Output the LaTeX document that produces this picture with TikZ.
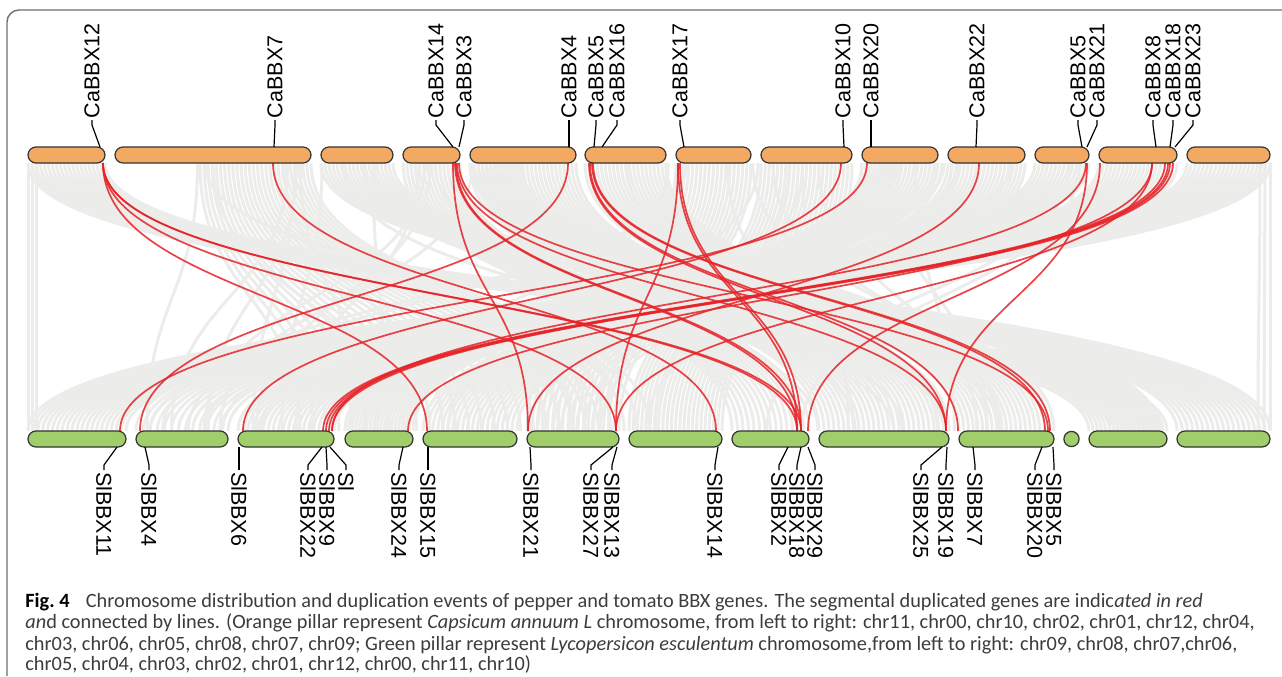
\documentclass[tikz,border=0pt]{standalone}
\usepackage{fontspec}
\setmainfont{Liberation Sans}
\newfontfamily\capfont{Carlito}
\usetikzlibrary{calc}

\definecolor{capsorange}{RGB}{244,169,98}
\definecolor{lycogreen}{RGB}{160,206,106}
\definecolor{synteny}{RGB}{236,236,234}
\definecolor{duplink}{RGB}{230,35,40}
\definecolor{framegray}{RGB}{110,110,110}
\definecolor{captext}{RGB}{60,60,60}

\tikzset{
  chrom/.style={draw=black!80, line width=0.6pt, rounded corners=4pt,
    inner sep=0pt, minimum height=8pt},
  capchr/.style={chrom, fill=capsorange},
  lycchr/.style={chrom, fill=lycogreen},
  genelbl/.style={font=\fontsize{10.75}{12}\selectfont, inner xsep=0.8pt,
    inner ysep=0pt, anchor=west},
  toplbl/.style={genelbl, rotate=90},
  botlbl/.style={genelbl, rotate=-90},
  leader/.style={line width=0.6pt},
  duplink/.style={draw=duplink, line width=0.85pt, opacity=0.85},
  syn/.style={draw=synteny, line width=1.5pt},
  capline/.style={anchor=base west, inner sep=0pt, text=captext,
    font=\capfont\fontsize{10.15}{11}\selectfont}
}

\begin{document}
\begin{tikzpicture}[x=0.5pt, y=-0.5pt]
  \useasboundingbox (0,0) rectangle (1282,676);

  % frame
  \draw[framegray, line width=0.7pt, rounded corners=6pt]
    (7,676) -- (7,10) -- (1282,10);

  % synteny blocks (grey background)
  \foreach \ta/\tb/\ba/\bb in {28/105/1089/1167, 321/393/1177/1270,
      403/460/732/809, 470/576/819/949, 585/666/959/1054,
      676/751/527/619, 761/852/629/722, 862/938/345/413,
      948/1025/423/517, 1035/1089/136/228, 1099/1177/238/334,
      1187/1270/28/126, 28/36/28/36, 1260/1270/1258/1270,
      200/311/300/650, 470/520/1110/1160, 862/900/530/600} {
    \pgfmathtruncatemacro\nn{max(2,(\tb-\ta)/4)}
    \foreach \k in {0,...,\nn} {
      \pgfmathsetmacro\xa{\ta+(\tb-\ta)*\k/\nn}
      \pgfmathsetmacro\xb{\ba+(\bb-\ba)*\k/\nn}
      \draw[syn] (\xa,163) .. controls (\xa,297) and (\xb,297) .. (\xb,431);
    }
  }
  \pgfmathsetseed{17}
  \foreach \i in {1,...,45} {
    \pgfmathsetmacro\xa{190+rnd*900}
    \pgfmathsetmacro\xb{130+rnd*900}
    \draw[syn] (\xa,163) .. controls (\xa,297) and (\xb,297) .. (\xb,431);
  }

  % link end points
  \foreach \x in {103,273,453,455,456,457,459,568,589,590,592,593,678,680,
      841,867,979,1086,1087,1100,1152,1165,1168,1170,1173}
    \coordinate (T\x) at (\x,163);
  \foreach \x in {120,140,243,323,326,329,332,408,427,528,616,716,797,801,
      808,946,958,1045,1048,1050}
    \coordinate (B\x) at (\x,431);

  % segmental duplications
  \foreach \a/\b in {T103/B427, T103/B616, T103/B797, T103/B801,
      T273/B716, T453/B528, T455/B797, T456/B801, T457/B946, T459/B1048,
      T568/B140, T589/B946, T590/B958, T592/B1045, T593/B1050,
      T678/B616, T678/B797, T680/B801, T841/B243, T867/B120,
      T979/B528, T1087/B946, T1086/B332, T1100/B808, T1152/B408,
      T1152/B616, T1165/B323, T1168/B326, T1170/B329, T1173/B332}
    \draw[duplink] (\a) .. controls +(0,134) and +(0,-134) .. (\b);

  % pepper chromosomes
  \foreach \n/\a/\b in {1/28/105, 2/115/311, 3/321/393, 4/403/460,
      5/470/576, 6/585/666, 7/676/751, 8/761/852, 9/862/938,
      10/948/1025, 11/1035/1089, 12/1099/1177, 13/1187/1270} {
    \pgfmathsetmacro\w{(\b-\a)*0.5}
    \node[capchr, minimum width=\w pt] (ca\n) at ({(\a+\b)/2},155) {};
  }

  % tomato chromosomes
  \foreach \n/\a/\b in {1/28/126, 2/136/228, 3/238/334, 4/345/413,
      5/423/517, 6/527/619, 7/629/722, 8/732/809, 9/819/949,
      10/959/1054, 12/1089/1167, 13/1177/1270} {
    \pgfmathsetmacro\w{(\b-\a)*0.5}
    \node[lycchr, minimum width=\w pt] (sl\n) at ({(\a+\b)/2},439) {};
  }
  \node[lycchr, circle, minimum size=7.6pt] (sl11) at (1071.5,439) {};

  % pepper gene labels
  \foreach \g/\t/\gx/\lx in {12/12/100/92, 7/7/274/275, 14/14/453/436,
      3/3/459/464, 4/4/569/569, 5/5/594/596, 16/16/602/617, 17/17/684/680,
      10/10/844/843, 20/20/871/871, 22/22/976/977, 5b/5/1082/1078,
      21/21/1087/1097, 8/8/1156/1153, 18/18/1170/1173, 23/23/1175/1193} {
    \coordinate (cg\g) at (\gx,147);
    \node[toplbl] (cl\g) at (\lx,120) {CaBBX\t};
    \draw[leader] (cg\g) -- ($(cl\g.west)+(0,5)$) -- (cl\g.west);
  }

  % tomato gene labels
  \foreach \g/\gx/\lx in {11/117/104, 4/145/149, 6/239/239, 22/322/308,
      9/326/327, 24/403/399, 15/428/428, 21/530/531, 27/613/591,
      13/617/612, 14/718/715, 2/788/779, 18/801/797, 29/808/815,
      25/942/921, 19/947/946, 7/973/975, 20/1042/1035, 5/1053/1054} {
    \coordinate (sg\g) at (\gx,447);
    \node[botlbl] (sb\g) at (\lx,470) {SlBBX\g};
    \draw[leader] (sg\g) -- ($(sb\g.west)+(0,-5)$) -- (sb\g.west);
  }
  \coordinate (sgx) at (330,447);
  \node[botlbl] (sbx) at (346,470) {Sl};
  \draw[leader] (sgx) -- ($(sbx.west)+(0,-5)$) -- (sbx.west);

  % caption
  \node[capline] (cap1) at (25,607) {\textbf{\color{black}Fig.~4}\hspace{0.8em}Chromosome distribution and duplication events of pepper and tomato BBX genes. The segmental duplicated genes are indic\textit{ated in red}};
  \node[capline] (cap2) at (25,628) {\textit{an}d connected by lines. (Orange pillar represent \textit{Capsicum annuum L} chromosome, from left to right: chr11, chr00, chr10, chr02, chr01, chr12, chr04,};
  \node[capline] (cap3) at (25,650) {chr03, chr06, chr05, chr08, chr07, chr09; Green pillar represent \textit{Lycopersicon esculentum} chromosome,from left to right: chr09, chr08, chr07,chr06,};
  \node[capline] (cap4) at (25,670) {chr05, chr04, chr03, chr02, chr01, chr12, chr00, chr11, chr10)};
\end{tikzpicture}
\end{document}
